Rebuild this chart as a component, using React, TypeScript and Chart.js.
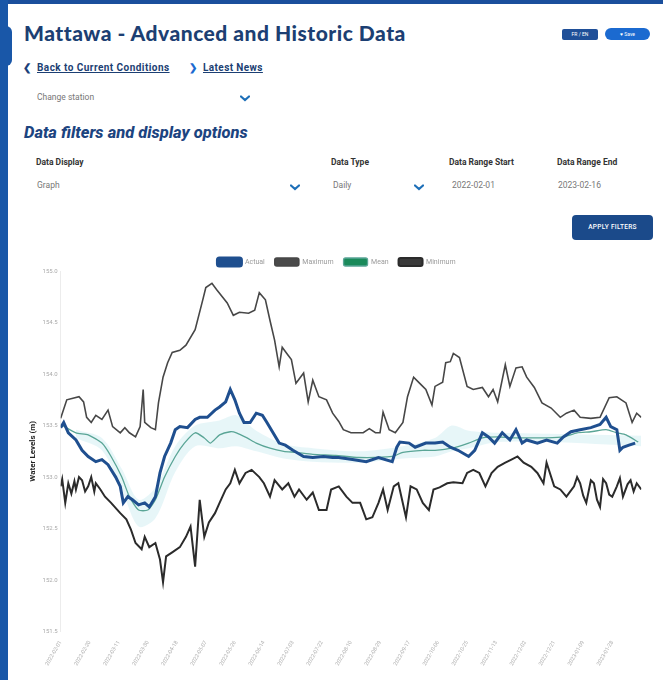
import React, { useEffect, useRef } from "react";
import { Chart, registerables } from "chart.js";

Chart.register(...registerables);

const startDate = "2022-02-01";
const endDate = "2023-02-16";
const seriesNames = ["Actual", "Maximum", "Mean", "Minimum"];
const yTicks = [151.5, 152, 152.5, 153, 153.5, 154, 154.5, 155];

const actualDays = [0, 2, 5, 10, 14, 18, 23, 27, 31, 36, 39, 41, 44, 47, 51, 55, 58, 62, 65, 68, 72, 75, 78, 83, 88, 91, 96, 101, 104, 108, 111, 114, 117, 120, 124, 128, 132, 135, 139, 143, 147, 152, 159, 165, 172, 178, 182, 191, 200, 208, 217, 220, 222, 228, 232, 239, 245, 250, 255, 260, 267, 271, 276, 280, 284, 289, 294, 298, 302, 305, 312, 318, 325, 329, 334, 340, 347, 353, 357, 360, 364, 366, 368, 372, 376];
const actualLevels = [153.48, 153.53, 153.43, 153.36, 153.26, 153.2, 153.15, 153.17, 153.12, 153.0, 152.91, 152.75, 152.81, 152.78, 152.73, 152.75, 152.71, 152.81, 153.04, 153.2, 153.33, 153.46, 153.49, 153.48, 153.56, 153.58, 153.58, 153.65, 153.68, 153.73, 153.85, 153.75, 153.62, 153.53, 153.53, 153.62, 153.6, 153.53, 153.43, 153.33, 153.31, 153.26, 153.2, 153.19, 153.2, 153.19, 153.19, 153.17, 153.15, 153.19, 153.15, 153.29, 153.34, 153.33, 153.29, 153.33, 153.33, 153.34, 153.29, 153.26, 153.2, 153.26, 153.43, 153.39, 153.33, 153.43, 153.36, 153.46, 153.33, 153.36, 153.33, 153.36, 153.33, 153.39, 153.44, 153.46, 153.48, 153.51, 153.58, 153.49, 153.46, 153.26, 153.29, 153.31, 153.33];

const maxDays = [0, 4, 12, 15, 17, 20, 23, 27, 31, 34, 39, 42, 45, 49, 52, 54, 55, 59, 62, 64, 67, 70, 73, 78, 82, 88, 93, 95, 99, 102, 109, 113, 117, 123, 127, 130, 134, 137, 140, 143, 145, 148, 151, 154, 159, 162, 165, 169, 174, 178, 182, 185, 190, 198, 202, 206, 209, 211, 215, 219, 224, 227, 231, 235, 239, 243, 245, 250, 252, 255, 257, 261, 266, 270, 276, 280, 283, 286, 291, 294, 298, 302, 305, 310, 315, 321, 327, 331, 336, 340, 347, 353, 359, 364, 370, 374, 377, 380];
const maxLevels = [153.57, 153.75, 153.78, 153.73, 153.58, 153.53, 153.6, 153.56, 153.65, 153.49, 153.43, 153.48, 153.43, 153.39, 153.49, 153.85, 153.53, 153.48, 153.46, 153.72, 153.97, 154.11, 154.21, 154.23, 154.28, 154.43, 154.72, 154.84, 154.88, 154.82, 154.69, 154.57, 154.6, 154.59, 154.62, 154.79, 154.72, 154.52, 154.33, 154.07, 154.26, 154.2, 154.14, 153.91, 154.01, 153.73, 153.94, 153.78, 153.75, 153.62, 153.54, 153.46, 153.43, 153.43, 153.47, 153.43, 153.43, 153.63, 153.46, 153.43, 153.53, 153.78, 153.97, 153.91, 153.85, 153.7, 153.88, 153.92, 154.11, 154.12, 154.2, 154.16, 153.88, 153.85, 153.87, 153.78, 153.85, 153.73, 154.09, 153.88, 154.06, 154.07, 153.97, 153.87, 153.72, 153.67, 153.58, 153.62, 153.65, 153.58, 153.57, 153.58, 153.77, 153.78, 153.72, 153.53, 153.62, 153.58];

const meanDays = [0, 10, 18, 27, 33, 40, 45, 51, 57, 62, 68, 75, 81, 88, 94, 98, 104, 111, 115, 122, 128, 137, 146, 154, 165, 180, 195, 217, 224, 237, 245, 256, 267, 276, 286, 297, 308, 318, 329, 338, 347, 357, 364, 370, 378];
const meanLevels = [153.51, 153.43, 153.41, 153.33, 153.2, 153.0, 152.81, 152.68, 152.68, 152.78, 153.0, 153.2, 153.33, 153.43, 153.38, 153.33, 153.41, 153.44, 153.43, 153.38, 153.33, 153.28, 153.25, 153.24, 153.22, 153.21, 153.19, 153.2, 153.24, 153.26, 153.26, 153.28, 153.33, 153.38, 153.39, 153.38, 153.38, 153.38, 153.39, 153.43, 153.44, 153.46, 153.43, 153.41, 153.34];

const minDays = [0, 1, 3, 5, 7, 9, 10, 12, 14, 16, 18, 20, 22, 23, 26, 29, 33, 39, 43, 46, 49, 53, 55, 58, 62, 65, 67, 69, 73, 78, 82, 85, 88, 91, 94, 97, 101, 104, 108, 111, 114, 117, 121, 125, 130, 133, 137, 140, 145, 149, 153, 156, 161, 165, 169, 174, 177, 182, 187, 191, 196, 200, 204, 208, 211, 214, 218, 221, 226, 229, 233, 237, 241, 244, 248, 253, 257, 263, 266, 270, 274, 278, 282, 286, 291, 295, 299, 303, 308, 312, 316, 318, 323, 327, 331, 336, 338, 340, 342, 344, 347, 349, 351, 353, 355, 357, 359, 361, 364, 366, 368, 371, 373, 375, 377, 380];
const minLevels = [152.91, 152.98, 152.75, 152.94, 152.84, 152.96, 152.88, 153.0, 152.97, 152.86, 152.91, 153.0, 152.86, 152.94, 152.88, 152.81, 152.75, 152.65, 152.59, 152.49, 152.36, 152.3, 152.42, 152.32, 152.36, 152.2, 151.98, 152.23, 152.27, 152.32, 152.42, 152.52, 152.13, 152.78, 152.42, 152.56, 152.65, 152.75, 152.88, 152.94, 153.07, 152.94, 153.04, 153.07, 153.0, 152.94, 152.81, 152.97, 152.88, 152.94, 152.81, 152.88, 152.78, 152.85, 152.68, 152.68, 152.88, 152.91, 152.81, 152.75, 152.75, 152.59, 152.61, 152.75, 152.88, 152.68, 152.91, 152.94, 152.61, 152.91, 152.88, 152.75, 152.68, 152.88, 152.9, 152.94, 152.95, 152.94, 153.04, 153.07, 153.04, 152.91, 153.04, 153.1, 153.14, 153.17, 153.2, 153.14, 153.1, 153.04, 152.94, 153.14, 152.91, 152.88, 152.81, 152.91, 153.0, 152.94, 152.82, 152.75, 152.97, 152.94, 152.78, 152.71, 152.98, 152.94, 152.83, 152.81, 152.91, 152.99, 152.81, 152.93, 152.97, 152.86, 152.94, 152.88];

const bandDays = [10, 27, 40, 51, 62, 75, 88, 104, 115, 128, 146, 165, 195, 224, 245, 256, 267, 286, 320, 380];
const bandUpper = [153.46, 153.38, 153.08, 152.78, 152.9, 153.3, 153.5, 153.55, 153.6, 153.45, 153.32, 153.28, 153.25, 153.3, 153.38, 153.5, 153.45, 153.43, 153.42, 153.4];
const bandLower = [153.38, 153.26, 152.88, 152.52, 152.6, 153.05, 153.3, 153.28, 153.3, 153.25, 153.18, 153.15, 153.14, 153.18, 153.2, 153.25, 153.28, 153.34, 153.34, 153.3];

const pts = (xs: number[], ys: number[]) => xs.map((x, i) => ({ x, y: ys[i] }));

function fmtDate(days: number) {
  const d = new Date(startDate + "T00:00:00Z");
  d.setUTCDate(d.getUTCDate() + Math.round(days));
  return d.toISOString().slice(0, 10);
}

const navy = "#1c3f73";

const legendGap = {
  id: "legendGap",
  beforeInit(chart: any) {
    const legend = chart.legend;
    if (!legend) return;
    const orig = legend.fit;
    legend.fit = function () {
      orig.call(this);
      this.height -= 5;
    };
  },
};

function ChartBox() {
  const ref = useRef<HTMLCanvasElement | null>(null);
  useEffect(() => {
    if (!ref.current) return;
    const chart = new Chart(ref.current, {
      type: "line",
      plugins: [legendGap],
      data: {
        datasets: [
          { label: seriesNames[0], data: pts(actualDays, actualLevels), borderColor: "#1f4f8f", backgroundColor: "#1f4f8f", borderWidth: 3, pointRadius: 0, tension: 0 },
          { label: seriesNames[1], data: pts(maxDays, maxLevels), borderColor: "#474747", backgroundColor: "#4a4a4a", borderWidth: 1.6, pointRadius: 0, tension: 0 },
          { label: seriesNames[2], data: pts(meanDays, meanLevels), borderColor: "#5aa596", backgroundColor: "#1a8a5a", borderWidth: 1.3, pointRadius: 0, tension: 0.2 },
          { label: seriesNames[3], data: pts(minDays, minLevels), borderColor: "#2b2b2b", backgroundColor: "#3a3a3a", borderWidth: 2, pointRadius: 0, tension: 0 },
          { label: "_upper", data: pts(bandDays, bandUpper), borderWidth: 0, borderColor: "rgba(0,0,0,0)", backgroundColor: "rgba(170,222,230,0.28)", pointRadius: 0, fill: "+1", tension: 0.3 },
          { label: "_lower", data: pts(bandDays, bandLower), borderWidth: 0, borderColor: "rgba(0,0,0,0)", backgroundColor: "rgba(170,222,230,0.28)", pointRadius: 0, fill: false, tension: 0.3 },
        ],
      },
      options: {
        animation: false,
        responsive: true,
        maintainAspectRatio: false,
        layout: { padding: { left: 2, right: 6, top: 2, bottom: 5 } },
        plugins: {
          legend: {
            position: "top",
            labels: {
              filter: (item: any) => !String(item.text).startsWith("_"),
              boxWidth: 24,
              boxHeight: 8,
              useBorderRadius: true,
              borderRadius: 2,
              font: { size: 7, family: "Roboto" },
              color: "#9a9a9a",
              padding: 10,
            },
          },
          tooltip: { enabled: false },
        },
        scales: {
          x: {
            type: "linear",
            min: 0,
            max: 380,
            grid: { display: false, drawTicks: false },
            border: { display: false },
            ticks: {
              stepSize: 19,
              autoSkip: false,
              minRotation: 60,
              maxRotation: 60,
              padding: 8,
              font: { size: 5.5, family: "Roboto" },
              color: "#b0b0b0",
              callback: (v: any) => (Number(v) > 370 ? "" : fmtDate(Number(v))),
            },
          },
          y: {
            type: "linear",
            min: yTicks[0],
            max: yTicks[yTicks.length - 1],
            afterBuildTicks: (axis: any) => {
              axis.ticks = yTicks.map((v) => ({ value: v }));
            },
            grid: { display: false, drawTicks: false },
            border: { display: true, color: "#ececec" },
            ticks: { font: { size: 6, family: "Roboto" }, color: "#aaa", padding: 3 },
            title: { display: true, text: "Water Levels (m)", font: { size: 8, weight: "bold", family: "Roboto" }, color: "#222", padding: { top: 4, bottom: 2 } },
          },
        },
      },
    });
    return () => chart.destroy();
  }, []);
  return <canvas ref={ref} />;
}

const abs = (l: number, t: number, extra: React.CSSProperties = {}): React.CSSProperties => ({ position: "absolute", left: l, top: t, ...extra });

function Chevron({ l, t }: { l: number; t: number }) {
  return (
    <svg style={abs(l, t)} width="10" height="7" viewBox="0 0 10 7">
      <path d="M1 1.5 L5 5 L9 1.5" stroke="#1d6fb8" strokeWidth="2.2" fill="none" strokeLinecap="round" />
    </svg>
  );
}

export default function App() {
  const lbl: React.CSSProperties = { fontSize: 8.5, fontWeight: 700, color: "#333", fontFamily: "Roboto, sans-serif", whiteSpace: "nowrap" };
  const val: React.CSSProperties = { fontSize: 8.5, color: "#777", fontFamily: "Roboto, sans-serif", whiteSpace: "nowrap" };
  return (
    <div style={{ position: "absolute", left: 0, top: 0, width: 663, height: 680, overflow: "hidden", background: "#fff", fontFamily: "Roboto, sans-serif" }}>
      <div style={abs(0, 0, { width: 663, height: 4, background: "#1a4f9c" })} />
      <div style={abs(0, 0, { width: 8, height: 680, background: "#1957a8" })} />
      <div style={abs(0, 26, { width: 12, height: 40, background: "#1957a8", borderRadius: "0 6px 6px 0" })} />

      <div style={abs(24, 20, { fontSize: 21, fontWeight: 900, color: navy, fontFamily: "Lato, Roboto, sans-serif", letterSpacing: 0.5, whiteSpace: "nowrap" })}>
        Mattawa - Advanced and Historic Data
      </div>
      <div style={abs(562, 29, { width: 36, height: 11, background: "#1f4f98", borderRadius: 2, color: "#fff", fontSize: 5, lineHeight: "11px", textAlign: "center" })}>FR / EN</div>
      <div style={abs(605, 28, { width: 45, height: 12, background: "#1b6ad0", borderRadius: 6, color: "#fff", fontSize: 5, lineHeight: "12px", textAlign: "center" })}>♥ Save</div>

      <div style={abs(23, 62, { fontSize: 10, fontWeight: 700, color: navy, whiteSpace: "nowrap" })}>
        <span style={{ color: "#1b3f7a", display: "inline-block", width: 14 }}>❮</span>
        <span style={{ textDecoration: "underline", letterSpacing: 0.45 }}>Back to Current Conditions</span>
      </div>
      <div style={abs(189, 62, { fontSize: 10, fontWeight: 700, color: navy, whiteSpace: "nowrap" })}>
        <span style={{ color: "#1b6ad0", display: "inline-block", width: 14 }}>❯</span>
        <span style={{ textDecoration: "underline", letterSpacing: 0.4 }}>Latest News</span>
      </div>

      <div style={abs(37, 92, { ...val, fontSize: 8.5 })}>Change station</div>
      <Chevron l={240} t={95} />

      <div style={abs(24, 123, { fontSize: 16.5, fontWeight: 800, fontStyle: "italic", color: "#1c4480", whiteSpace: "nowrap" })}>
        Data filters and display options
      </div>

      <div style={abs(36, 157, lbl)}>Data Display</div>
      <div style={abs(331, 157, lbl)}>Data Type</div>
      <div style={abs(449, 157, lbl)}>Data Range Start</div>
      <div style={abs(557, 157, lbl)}>Data Range End</div>

      <div style={abs(37, 180, val)}>Graph</div>
      <Chevron l={290} t={184} />
      <div style={abs(333, 180, val)}>Daily</div>
      <Chevron l={414} t={184} />
      <div style={abs(452, 180, val)}>{startDate}</div>
      <div style={abs(558, 180, val)}>{endDate}</div>

      <div style={abs(572, 215, { width: 81, height: 25, background: "#1b4a8a", borderRadius: 4, color: "#fff", fontSize: 6.5, fontWeight: 500, lineHeight: "25px", textAlign: "center", letterSpacing: 0.3 })}>
        APPLY FILTERS
      </div>

      <div style={abs(22, 246, { width: 633, height: 434 })}>
        <ChartBox />
      </div>
    </div>
  );
}
